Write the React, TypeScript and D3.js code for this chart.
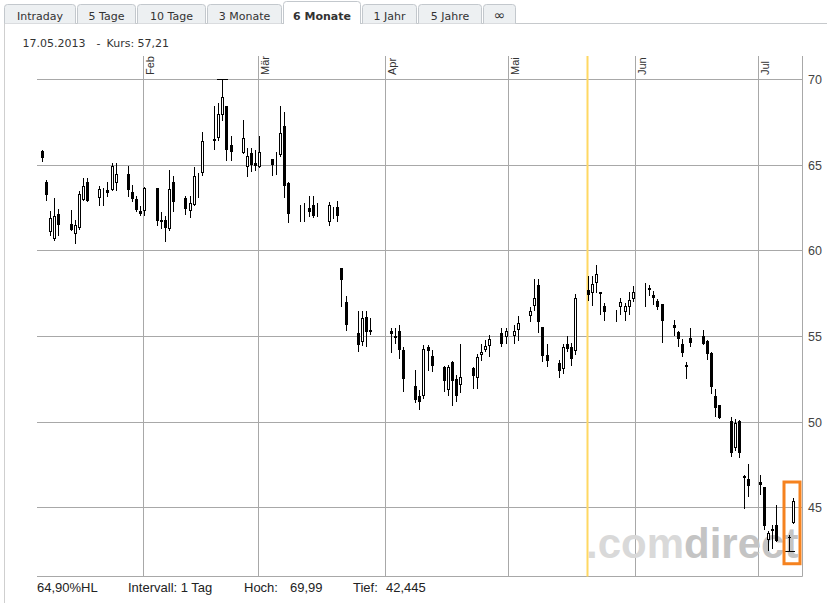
import React from "react";
import * as d3 from "d3";

const dates = [
  "2013-01-07","2013-01-08","2013-01-09","2013-01-10","2013-01-11",
  "2013-01-14","2013-01-15","2013-01-16","2013-01-17","2013-01-18",
  "2013-01-21","2013-01-22","2013-01-23","2013-01-24","2013-01-25",
  "2013-01-28","2013-01-29","2013-01-30","2013-01-31","2013-02-01",
  "2013-02-04","2013-02-05","2013-02-06","2013-02-07","2013-02-08",
  "2013-02-11","2013-02-12","2013-02-13","2013-02-14","2013-02-15",
  "2013-02-18","2013-02-19","2013-02-20","2013-02-21","2013-02-22",
  "2013-02-25","2013-02-26","2013-02-27","2013-02-28","2013-03-01",
  "2013-03-04","2013-03-05","2013-03-06","2013-03-07","2013-03-08",
  "2013-03-11","2013-03-12","2013-03-13","2013-03-14","2013-03-15",
  "2013-03-18","2013-03-19","2013-03-20","2013-03-21","2013-03-22",
  "2013-03-25","2013-03-26","2013-03-27","2013-03-28",
  "2013-04-02","2013-04-03","2013-04-04","2013-04-05",
  "2013-04-08","2013-04-09","2013-04-10","2013-04-11","2013-04-12",
  "2013-04-15","2013-04-16","2013-04-17","2013-04-18","2013-04-19",
  "2013-04-22","2013-04-23","2013-04-24","2013-04-25","2013-04-26",
  "2013-04-29","2013-04-30","2013-05-02","2013-05-03",
  "2013-05-06","2013-05-07","2013-05-08","2013-05-09","2013-05-10",
  "2013-05-13","2013-05-14","2013-05-15","2013-05-16","2013-05-17",
  "2013-05-20","2013-05-21","2013-05-22","2013-05-23","2013-05-24",
  "2013-05-27","2013-05-28","2013-05-29","2013-05-30","2013-05-31",
  "2013-06-03","2013-06-04","2013-06-05","2013-06-06","2013-06-07",
  "2013-06-10","2013-06-11","2013-06-12","2013-06-13","2013-06-14",
  "2013-06-17","2013-06-18","2013-06-19","2013-06-20","2013-06-21",
  "2013-06-24","2013-06-25","2013-06-26","2013-06-27","2013-06-28",
  "2013-07-01","2013-07-02","2013-07-03","2013-07-04","2013-07-05",
  "2013-07-08","2013-07-09",
];

const opens = [
  65.78,64.01,61.06,60.65,62.15,
  61.56,60.96,61.31,62.96,63.99,
  63.06,63.43,63.55,63.5,63.94,
  64.46,63.41,63.0,62.32,62.28,
  63.64,61.8,61.8,61.25,63.99,
  63.06,62.28,62.63,64.17,64.52,
  66.36,66.56,67.92,68.44,66.17,
  65.69,64.87,65.69,65.1,64.87,
  65.35,65.23,65.59,67.28,63.94,
  62.36,62.52,62.48,62.67,62.42,
  61.64,62.36,62.54,58.98,57.0,
  55.19,54.66,56.12,55.33,
  55.27,55.03,55.32,54.16,
  52.08,51.49,51.49,54.37,53.86,
  53.18,51.84,53.5,52.51,52.12,
  53.11,52.57,53.88,54.17,54.41,
  55.15,54.96,55.03,55.38,
  56.19,56.74,58.0,55.54,53.91,
  53.4,53.09,54.55,54.35,54.12,
  57.71,57.52,58.1,57.58,56.78,
  56.43,56.68,56.39,56.68,57.19,
  57.5,57.81,57.42,57.07,56.9,
  55.67,55.25,54.55,53.21,54.9,
  55.03,54.72,54.02,51.49,50.95,
  50.03,48.48,50.03,46.86,46.64,
  46.48,46.21,43.1,43.76,43.97,
  43.28,44.12,
];

const highs = [
  65.84,64.13,62.28,63.06,62.44,
  62.38,61.8,63.45,64.23,64.23,
  63.74,63.64,63.97,65.1,65.1,
  64.9,63.84,63.15,62.57,63.68,
  63.64,62.22,61.99,64.71,64.32,
  63.15,63.2,64.85,64.52,66.89,
  68.44,68.6,69.99,68.44,66.69,
  67.63,65.98,65.98,65.84,66.69,
  65.35,65.74,68.44,68.08,63.97,
  62.67,62.77,63.15,63.2,62.77,
  62.8,62.54,62.9,58.98,57.32,
  56.49,56.49,56.45,56.06,
  55.48,55.48,55.62,54.37,
  53.01,51.84,54.45,54.45,54.2,
  53.24,53.34,53.53,52.7,54.51,
  53.21,53.97,54.51,54.76,55.09,
  55.48,55.48,55.67,56.16,
  56.7,58.34,58.34,55.54,54.51,
  53.59,54.55,55.03,54.61,57.48,
  58.53,58.53,59.17,57.58,56.94,
  56.55,57.23,56.94,57.58,57.95,
  58.1,58.0,57.65,57.19,56.9,
  55.96,55.28,54.8,53.5,55.48,
  55.34,54.76,54.08,51.92,50.95,
  50.29,50.19,50.09,46.9,47.51,
  46.87,46.21,43.62,43.95,45.15,
  43.4,45.55,
];

const lows = [
  65.23,62.96,60.92,60.6,60.92,
  61.17,60.44,61.27,62.96,62.86,
  62.67,62.63,63.2,63.5,63.55,
  63.2,62.86,62.28,62.09,62.09,
  61.5,61.31,60.53,61.21,62.28,
  62.15,61.95,62.63,63.12,64.42,
  65.94,66.46,67.63,65.25,65.25,
  65.69,64.32,64.61,64.71,64.87,
  64.42,64.48,65.49,63.1,61.66,
  61.7,61.7,61.99,61.95,61.99,
  61.46,61.9,61.7,56.74,55.38,
  54.12,54.5,54.41,55.13,
  54.06,54.61,53.73,51.78,
  51.14,50.76,51.4,53.01,52.95,
  51.78,51.59,50.95,51.2,51.73,
  51.98,51.98,53.63,54.12,53.86,
  54.41,54.57,54.57,54.76,
  55.86,56.51,55.22,53.53,53.24,
  52.6,52.82,54.12,53.3,53.98,
  57.13,56.84,57.56,56.26,55.96,
  55.87,56.26,55.96,56.26,57.03,
  56.74,57.38,56.9,56.59,54.66,
  55.09,54.41,53.83,52.57,54.41,
  54.51,53.65,51.69,50.33,50.23,
  47.99,48.34,47.96,44.97,45.66,
  45.76,43.76,42.51,42.65,43.02,
  42.445,44.07,
];

const closes = [
  65.4,63.21,61.9,62.03,61.46,
  61.21,61.5,63.31,63.74,62.86,
  63.59,63.47,63.35,64.94,64.46,
  63.5,63.0,62.38,62.15,63.64,
  61.7,61.64,61.31,63.6,62.8,
  62.44,62.77,64.36,64.21,66.4,
  66.52,67.98,68.95,65.84,65.72,
  66.56,65.49,65.0,64.9,65.74,
  64.96,65.27,66.85,63.78,62.15,
  62.4,62.56,62.22,62.03,62.46,
  62.63,62.4,61.99,58.26,55.63,
  54.47,56.06,55.22,55.22,
  55.11,54.87,54.17,52.47,
  51.26,51.14,54.27,54.12,53.24,
  52.37,53.21,52.37,51.49,52.62,
  52.66,53.79,54.08,54.41,54.8,
  54.55,55.32,55.28,55.77,
  56.49,57.23,55.81,53.86,53.53,
  52.95,54.37,54.26,53.67,57.21,
  57.38,58.06,58.63,57.46,56.41,
  56.47,56.97,56.74,57.13,57.58,
  57.54,57.67,57.23,56.7,55.87,
  55.48,54.84,54.02,53.34,54.61,
  54.55,53.94,52.04,50.82,50.23,
  48.19,49.94,48.19,46.69,46.25,
  46.33,43.91,43.5,43.62,43.05,
  43.24,45.4,
];

const monthLabels = ["Feb", "Mär", "Apr", "Mai", "Jun", "Jul"];
const priceTicks = [45, 50, 55, 60, 65, 70];
const tabLabels = ["Intraday", "5 Tage", "10 Tage", "3 Monate", "6 Monate", "1 Jahr", "5 Jahre", "∞"];
const activeTab = "6 Monate";
const markerDate = "2013-05-20";
const headerDate = "17.05.2013";
const headerKurs = "57,21";
const hlPercent = "64,90%HL";
const intervalText = "Intervall: 1 Tag";

const W = 827;
const H = 603;
const tabEdges = [4, 77, 137, 207, 283, 362, 418, 483, 517];

const parse = d3.timeParse("%Y-%m-%d");
const fmtDE = (v: number) => String(v).replace(".", ",");

export default function App() {
  const x = d3
    .scaleTime()
    .domain([new Date(2013, 1, 1), new Date(2013, 6, 1)])
    .range([142.7, 758.3]);
  const y = d3.scaleLinear().domain([41, 70]).range([576, 79]);

  const plotLeft = 37;
  const plotRight = 802.5;
  const plotTop = 56;
  const plotBottom = 576.5;

  const candles = dates.map((ds, i) => ({
    date: parse(ds) as Date,
    o: opens[i],
    h: highs[i],
    l: lows[i],
    c: closes[i],
  }));
  const cxOf = (d: Date) => Math.round(x(d3.timeHour.offset(d, 10))) + 0.5;

  const hiIdx = d3.maxIndex(highs);
  const loIdx = d3.minIndex(lows);
  const hoch = highs[hiIdx];
  const tief = lows[loIdx];

  const months = d3.timeMonth.range(new Date(2013, 1, 1), new Date(2013, 6, 2));
  const grid = "#a8a8a8";
  const sans = "'Liberation Sans', Arial, sans-serif";
  const verd = "'DejaVu Sans', Verdana, sans-serif";

  const markerX = cxOf(parse(markerDate) as Date) - 1;

  const last2 = candles.slice(-2);
  const boxL = cxOf(last2[0].date) - 5.5;
  const boxR = cxOf(last2[1].date) + 6.5;
  const boxT = y(d3.max(last2, (d) => d.h) as number) - 16;
  const boxB = y(d3.min(last2, (d) => d.l) as number) + 12.5;

  return (
    <svg
      width={W}
      height={H}
      style={{ position: "absolute", left: 0, top: 0, background: "#fff" }}
    >
      {/* tabs */}
      <line x1={4} x2={W} y1={23.5} y2={23.5} stroke="#c6c9cc" />
      {tabLabels.map((t, i) => {
        const l = tabEdges[i] + 0.5;
        const r = tabEdges[i + 1] - 1.5;
        const active = t === activeTab;
        const top = active ? 1.5 : 4.5;
        const bot = active ? 24 : 23.5;
        const path = `M${l},${bot} L${l},${top + 3} Q${l},${top} ${l + 3},${top} L${r - 3},${top} Q${r},${top} ${r},${top + 3} L${r},${bot}`;
        const isInf = t === "∞";
        return (
          <g key={t}>
            <path d={path} fill={active ? "#fff" : "#edf0f2"} stroke="#c3c8cd" />
            <text
              x={(l + r) / 2}
              y={isInf ? 20 : 19.5}
              textAnchor="middle"
              fontFamily={verd}
              fontSize={isInf ? 14 : 11}
              fontWeight={active ? "bold" : "normal"}
              fill="#333"
            >
              {t}
            </text>
          </g>
        );
      })}
      {/* panel left border */}
      <line x1={4.5} x2={4.5} y1={23.5} y2={H} stroke="#cfcfcf" />

      {/* header */}
      <text x={22.5} y={46.5} fontFamily={verd} fontSize={11} fill="#333">{headerDate}</text>
      <text x={96.5} y={46.5} fontFamily={verd} fontSize={11} fill="#333">-</text>
      <text x={106.5} y={46.5} fontFamily={verd} fontSize={11} fill="#333">{`Kurs: ${headerKurs}`}</text>

      {/* horizontal grid */}
      {priceTicks.map((p) => {
        const yy = Math.round(y(p)) + 0.5;
        return (
          <g key={p}>
            <line x1={plotLeft} x2={plotRight} y1={yy} y2={yy} stroke={grid} />
            <text x={808} y={yy} dy="0.35em" fontFamily={sans} fontSize={12.5} fill="#444">
              {p}
            </text>
          </g>
        );
      })}
      <line x1={plotLeft} x2={plotRight} y1={plotBottom} y2={plotBottom} stroke={grid} />
      <line x1={plotRight} x2={plotRight} y1={plotTop} y2={plotBottom} stroke={grid} />

      {/* month grid */}
      {months.map((m, i) => {
        const xx = Math.round(x(m)) + 0.5;
        return (
          <g key={i}>
            <line x1={xx} x2={xx} y1={plotTop} y2={plotBottom} stroke={grid} />
            <text
              transform={`translate(${xx + 10},75) rotate(-90)`}
              fontFamily={sans}
              fontSize={11}
              fill="#333"
            >
              {monthLabels[i]}
            </text>
          </g>
        );
      })}

      {/* watermark */}
      <text x={586} y={558} fontFamily={sans} fontWeight="bold" fontSize={42}>
        <tspan fill="#d9d9d9">.com</tspan>
        <tspan fill="#c4c4c4">direct</tspan>
      </text>

      {/* marker line */}
      <line x1={markerX} x2={markerX} y1={plotTop} y2={plotBottom} stroke="#ffd862" strokeWidth={2} />

      {/* candles */}
      <g shapeRendering="crispEdges">
        {candles.map((d, i) => {
          const cx = cxOf(d.date);
          const up = d.c > d.o;
          const yTop = Math.round(y(Math.max(d.o, d.c)));
          const yBot = Math.round(y(Math.min(d.o, d.c)));
          const hgt = Math.max(1, yBot - yTop);
          return (
            <g key={i}>
              <line x1={cx} x2={cx} y1={Math.round(y(d.h))} y2={Math.round(y(d.l)) + 1} stroke="#000" />
              {up ? (
                <rect
                  x={cx - 1}
                  y={yTop + 0.5}
                  width={2}
                  height={Math.max(0, hgt - 1)}
                  fill="#fff"
                  stroke="#000"
                />
              ) : (
                <rect x={cx - 1.5} y={yTop} width={3} height={hgt} fill="#000" />
              )}
            </g>
          );
        })}
        {/* high / low markers */}
        <line
          x1={cxOf(candles[hiIdx].date) - 5.5}
          x2={cxOf(candles[hiIdx].date) + 5.5}
          y1={Math.round(y(hoch)) + 0.5}
          y2={Math.round(y(hoch)) + 0.5}
          stroke="#000"
        />
        <line
          x1={cxOf(candles[loIdx].date) - 5.5}
          x2={cxOf(candles[loIdx].date) + 5.5}
          y1={Math.round(y(tief)) + 0.5}
          y2={Math.round(y(tief)) + 0.5}
          stroke="#000"
        />
      </g>

      {/* highlight box */}
      <rect x={boxL} y={boxT} width={boxR - boxL} height={boxB - boxT} fill="none" stroke="#f5821f" strokeWidth={3} />

      {/* footer */}
      <text x={37} y={592} fontFamily={sans} fontSize={13} fill="#222">{hlPercent}</text>
      <text x={128} y={592} fontFamily={sans} fontSize={13} fill="#222">{intervalText}</text>
      <text x={244} y={592} fontFamily={sans} fontSize={13} fill="#222">Hoch:</text>
      <text x={290} y={592} fontFamily={sans} fontSize={13} fill="#222">{fmtDE(hoch)}</text>
      <text x={353} y={592} fontFamily={sans} fontSize={13} fill="#222">Tief:</text>
      <text x={386} y={592} fontFamily={sans} fontSize={13} fill="#222">{fmtDE(tief)}</text>
    </svg>
  );
}
